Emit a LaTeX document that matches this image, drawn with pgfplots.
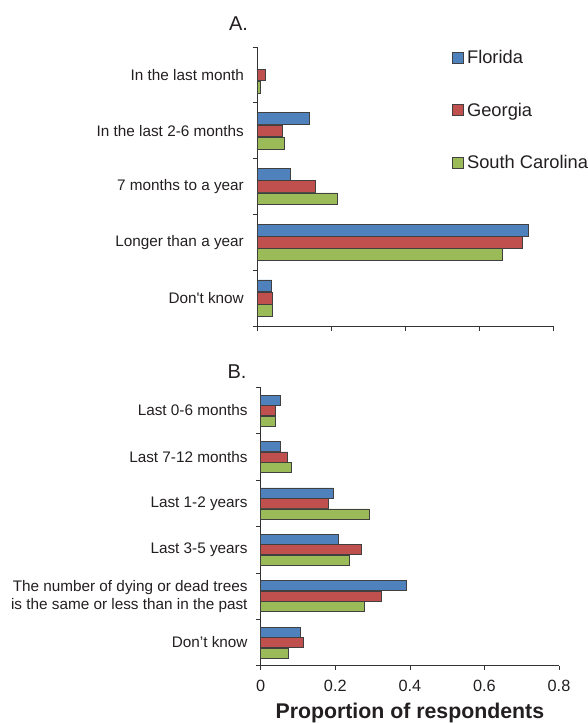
\documentclass[border=0pt]{standalone}
\usepackage{pgfplots}
\pgfplotsset{compat=1.18}
\usepackage{fontspec}
\setmainfont{Liberation Sans}
\definecolor{cF}{HTML}{4F81BD}
\definecolor{cG}{HTML}{C0504D}
\definecolor{cS}{HTML}{9BBB59}
\definecolor{txt}{HTML}{231F20}
\pgfplotsset{
 panel/.style={
  scale only axis,
  xbar,
  xmin=0, xmax=0.8,
  axis x line*=bottom, axis y line*=left,
  axis line style={-, draw=black!80, line width=0.7bp},
  tick align=outside,
  major tick length=4.5bp,
  tick style={draw=black!80, line width=0.7bp},
  xtick={0,0.2,0.4,0.6,0.8},
  yticklabels={},
  extra y tick style={major tick length=0pt},
  yticklabel style={font=\fontsize{15.3bp}{18bp}\selectfont, align=right, text=txt, inner sep=0pt, xshift=-13bp},
  xticklabel style={font=\fontsize{16.3bp}{19bp}\selectfont, text=txt, yshift=-6bp},
  /pgf/number format/assume math mode=true,
  clip=false,
  every axis plot/.append style={draw=black!75, line width=0.6bp},
 },
}
\begin{document}
\begin{tikzpicture}
\path[use as bounding box] (0,0) rectangle (588bp,-723bp);
% Panel A
\begin{axis}[panel,
  at={(257bp,-47bp)}, anchor=north west,
  width=296bp, height=279bp,
  ymin=-0.5, ymax=4.5,
  ytick={-0.5,0.5,1.5,2.5,3.5,4.5},
  extra y ticks={0,1,2,3,4},
  extra y tick labels={Don\textquotesingle t know, Longer than a year, 7 months to a year, In the last 2-6 months, In the last month},
  xticklabels={},
  bar width=11.7bp,
  legend style={at={(0.658,0.995)}, anchor=north west, draw=none, fill=none, inner sep=0pt,
    row sep=35bp, font=\fontsize{18.3bp}{22bp}\selectfont, nodes={inner sep=1.5bp, text=txt}},
  legend cell align=left,
  legend image code/.code={\draw[#1, draw=black!75, line width=0.6bp] (0bp,-5.5bp) rectangle (11bp,5.5bp); \path (13bp,0bp);},
]
\addplot[fill=cF, bar shift=12.3bp] coordinates {(0.039,0) (0.732,1) (0.090,2) (0.142,3)};
\addplot[fill=cG, bar shift=0bp] coordinates {(0.042,0) (0.717,1) (0.158,2) (0.068,3) (0.022,4)};
\addplot[fill=cS, bar shift=-12.3bp] coordinates {(0.042,0) (0.664,1) (0.218,2) (0.075,3) (0.009,4)};
\legend{Florida, Georgia, South Carolina}
\node[font=\fontsize{20bp}{24bp}\selectfont, text=txt, anchor=base, yshift=17bp] at (rel axis cs:-0.0625,1) {A.};
\end{axis}
% Panel B
\begin{axis}[panel,
  at={(260.7bp,-387.3bp)}, anchor=north west,
  width=298.3bp, height=278.4bp,
  ymin=-0.5, ymax=5.5,
  ytick={-0.5,0.5,1.5,2.5,3.5,4.5,5.5},
  extra y ticks={0,1,2,3,4,5},
  extra y tick labels={Don’t know, {The number of dying or dead trees\\is the same or less than in the past}, Last 3-5 years, Last 1-2 years, Last 7-12 months, Last 0-6 months},
  xticklabels={0,0.2,0.4,0.6,0.8},
  bar width=10bp,
  xlabel={Proportion of respondents},
  xlabel style={font=\bfseries\fontsize{21.3bp}{25bp}\selectfont, text=txt, yshift=-4.5bp},
]
\addplot[fill=cF, bar shift=10.5bp] coordinates {(0.105,0) (0.390,1) (0.208,2) (0.196,3) (0.052,4) (0.052,5)};
\addplot[fill=cG, bar shift=0bp] coordinates {(0.114,0) (0.324,1) (0.270,2) (0.180,3) (0.072,4) (0.040,5)};
\addplot[fill=cS, bar shift=-10.5bp] coordinates {(0.075,0) (0.278,1) (0.237,2) (0.290,3) (0.081,4) (0.040,5)};
\node[font=\fontsize{20bp}{24bp}\selectfont, text=txt, anchor=base, yshift=9bp] at (rel axis cs:-0.0795,1) {B.};
\end{axis}
\end{tikzpicture}
\end{document}
